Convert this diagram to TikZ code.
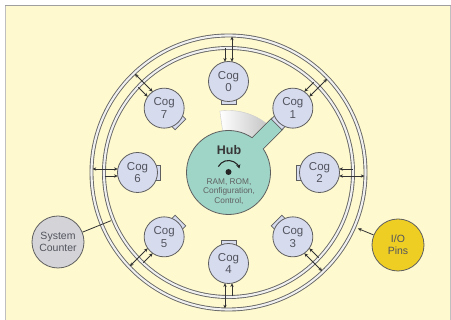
\documentclass[tikz,border=0pt]{standalone}
\usepackage{fontspec}
\setmainfont{Liberation Sans}
\usetikzlibrary{arrows.meta,calc}
\definecolor{bgyel}{RGB}{254,249,206}
\definecolor{cogfill}{RGB}{214,219,238}
\definecolor{hubfill}{RGB}{158,213,199}
\definecolor{linegray}{RGB}{95,95,95}
\definecolor{txtgray}{RGB}{82,84,94}
\definecolor{scfill}{RGB}{212,212,216}
\definecolor{iofill}{RGB}{238,206,34}
\begin{document}
\begin{tikzpicture}[x=1pt,y=-1pt,
  cog/.style={circle, draw=linegray, line width=0.8pt, fill=cogfill, minimum size=40pt,
    inner sep=0pt, align=center, text=txtgray, font=\fontsize{11.5}{12.5}\selectfont},
  tabshape/.style={draw=linegray, line width=0.8pt, fill=cogfill},
  ring/.style={draw=gray!80!black, line width=0.9pt, double=gray!12, double distance=2.1pt},
  bus/.style={draw=black!80, line width=0.8pt},
  arr/.style={-{Stealth[length=3.8pt,width=3.4pt]}},
  barr/.style={{Stealth[length=3.8pt,width=3.4pt]}-{Stealth[length=3.8pt,width=3.4pt]}},
  bignode/.style={circle, draw=linegray, line width=0.8pt, minimum size=52pt, inner sep=0pt,
    align=center, text=txtgray, font=\fontsize{10.5}{12}\selectfont}
]
\useasboundingbox (0,0) rectangle (451,320);
\fill[white] (0,0) rectangle (451,320);
\filldraw[fill=bgyel, draw=gray!50, line width=1pt] (5.5,5.5) rectangle (450.5,322);
\draw[gray!75, line width=1.2pt] (5,5.2) -- (451,5.2);

\coordinate (C) at (228.5,172.5);

% rings
\draw[ring] (C) circle[radius=137];
\draw[ring] (C) circle[radius=124.5];

% sweep wedge
\path[left color=white, right color=gray!45, draw=gray!40, line width=0.4pt]
  (C) -- ($(C)+(-98:62)$) arc[start angle=-98, end angle=-52, radius=62] -- cycle;

% arm
\begin{scope}[shift={(C)}, rotate=45]
  \filldraw[draw=linegray, line width=0.8pt, fill=hubfill] (36,-7.8) rectangle (69,7.8);
\end{scope}

% hub
\node[circle, draw=linegray, line width=0.8pt, fill=hubfill, minimum size=84pt, inner sep=0pt] (hub) at (C) {};
\begin{scope}[shift={(C)}, rotate=45]
  \fill[hubfill] (30,-7.4) rectangle (68,7.4);
\end{scope}
\node[font=\bfseries\fontsize{12.5}{13}\selectfont, text=black!78] (hubt) at (229,150) {Hub};
\node[circle, fill=black!85, inner sep=0pt, minimum size=6pt] (dot) at (228.5,172) {};
\draw[line width=1.1pt, black!85, -{Stealth[length=4pt,width=4.5pt]}]
  ($(dot)+(-152:11.5)$) arc[start angle=-152, end angle=-18, radius=11.5];
\node[font=\fontsize{8.3}{9.2}\selectfont, text=black!62, align=center] (hubtxt) at (229,191.5)
  {RAM, ROM,\\Configuration,\\Control,};

% cogs
\foreach \k in {0,...,7}{
  \pgfmathsetmacro{\a}{-90+45*\k}
  \pgfmathsetmacro{\b}{-\a}
  \begin{scope}[shift={($(C)+(\a:91)$)}, rotate=\b]
    \filldraw[tabshape] (-23,-7.5) rectangle (-15,7.5);
  \end{scope}
  \node[cog] (cog\k) at ($(C)+(\a:91)$) {Cog\\\k};
  \begin{scope}[shift={(C)}, rotate=\b]
    \coordinate (ri\k) at (124,-3.5);
    \coordinate (ci\k) at (110.7,-3.5);
    \coordinate (co\k) at (110.7,3.5);
    \coordinate (ro\k) at (136,3.5);
  \end{scope}
  \draw[bus, arr] (ri\k) -- (ci\k);
  \draw[bus, barr] (co\k) -- (ro\k);
}

% system counter
\node[bignode, fill=scfill] (sc) at (58,242) {System\\Counter};
\coordinate (scp) at ($(C)+(157.7:127)$);
\draw[bus] (sc) -- (scp);

% I/O pins
\node[bignode, fill=iofill] (io) at (398,245) {I/O\\Pins};
\coordinate (iop) at ($(C)+(23.4:141)$);
\draw[bus, arr] (io) -- (iop);
\end{tikzpicture}
\end{document}
